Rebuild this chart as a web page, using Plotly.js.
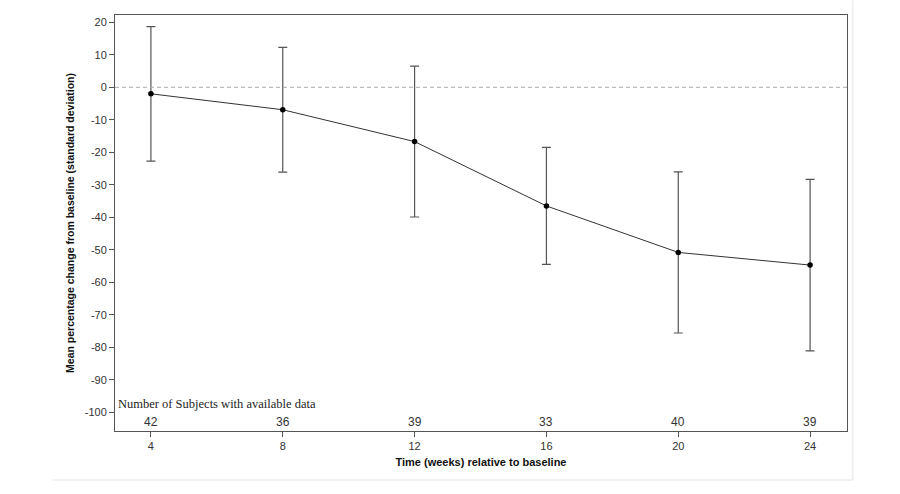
<!DOCTYPE html>
<html>
<head>
<meta charset="utf-8">
<script src="https://cdn.plot.ly/plotly-3.0.1.min.js"></script>
<style>html,body{margin:0;padding:0;background:#fff;}#chart{width:900px;height:494px;}</style>
</head>
<body>
<div id="chart"></div>
<script>
const weeks = [4, 8, 12, 16, 20, 24];
const meanChange = [-2.0, -6.9, -16.7, -36.5, -50.8, -54.7];
const sdChange = [20.7, 19.2, 23.2, 18.0, 24.8, 26.4];
const nSubjects = [42, 36, 39, 33, 40, 39];
const xTickLabels = ['4', '8', '12', '16', '20', '24'];
const yTickVals = [20, 10, 0, -10, -20, -30, -40, -50, -60, -70, -80, -90, -100];
const yTickLabels = ['20', '10', '0', '-10', '-20', '-30', '-40', '-50', '-60', '-70', '-80', '-90', '-100'];

const trace = {
  x: weeks,
  y: meanChange,
  type: 'scatter',
  mode: 'lines+markers',
  line: {color: '#333333', width: 1},
  marker: {color: '#000000', size: 5.5},
  error_y: {type: 'data', array: sdChange, visible: true, color: '#555555', thickness: 1.2, width: 4.5},
  showlegend: false,
  hoverinfo: 'skip'
};

const annotations = nSubjects.map((n, i) => ({
  x: weeks[i], xref: 'x', y: 0.022, yref: 'paper', yanchor: 'middle',
  text: String(n), showarrow: false,
  font: {family: 'Liberation Sans, Arial, sans-serif', size: 12, color: '#333'}
}));
annotations.push({
  x: 0.002, xref: 'paper', xanchor: 'left', y: 0.065, yref: 'paper', yanchor: 'middle',
  text: 'Number of Subjects with available data', showarrow: false,
  font: {family: 'Liberation Serif, Times New Roman, serif', size: 12.5, color: '#222'}
});

const layout = {
  width: 900, height: 494,
  margin: {l: 115, r: 53, t: 15, b: 63},
  paper_bgcolor: '#ffffff', plot_bgcolor: '#ffffff',
  font: {family: 'Liberation Sans, Arial, sans-serif', color: '#333'},
  xaxis: {
    range: [2.91, 25.12], tickvals: weeks, ticktext: xTickLabels,
    ticks: 'outside', ticklen: 5, tickcolor: '#555', tickwidth: 1,
    showline: true, mirror: true, linecolor: '#555', linewidth: 1,
    showgrid: false, zeroline: false,
    tickfont: {size: 11, color: '#333'},
    title: {text: '<b>Time (weeks) relative to baseline</b>', font: {size: 11, color: '#111'}, standoff: 7}
  },
  yaxis: {
    range: [-105.75, 22.25], tickvals: yTickVals, ticktext: yTickLabels,
    ticks: 'outside', ticklen: 5, tickcolor: '#555', tickwidth: 1,
    showline: true, mirror: true, linecolor: '#555', linewidth: 1,
    showgrid: false, zeroline: false,
    tickfont: {size: 11, color: '#333'},
    title: {text: '<b>Mean percentage change from baseline (standard deviation)</b>', font: {size: 10.5, color: '#111'}, standoff: 8}
  },
  shapes: [
    {type: 'line', xref: 'paper', x0: 0, x1: 1, yref: 'y', y0: 0, y1: 0,
     line: {color: '#aaaaaa', width: 1, dash: '4px,3px'}},
    {type: 'line', xref: 'paper', x0: -0.085, x1: 1.008, yref: 'paper', y0: -0.118, y1: -0.118,
     line: {color: '#eeeeee', width: 1.5}},
    {type: 'line', xref: 'paper', x0: 1.008, x1: 1.008, yref: 'paper', y0: -0.118, y1: 1.035,
     line: {color: '#eeeeee', width: 1.5}}
  ],
  annotations: annotations
};

Plotly.newPlot('chart', [trace], layout, {displayModeBar: false, staticPlot: true});
</script>
</body>
</html>
